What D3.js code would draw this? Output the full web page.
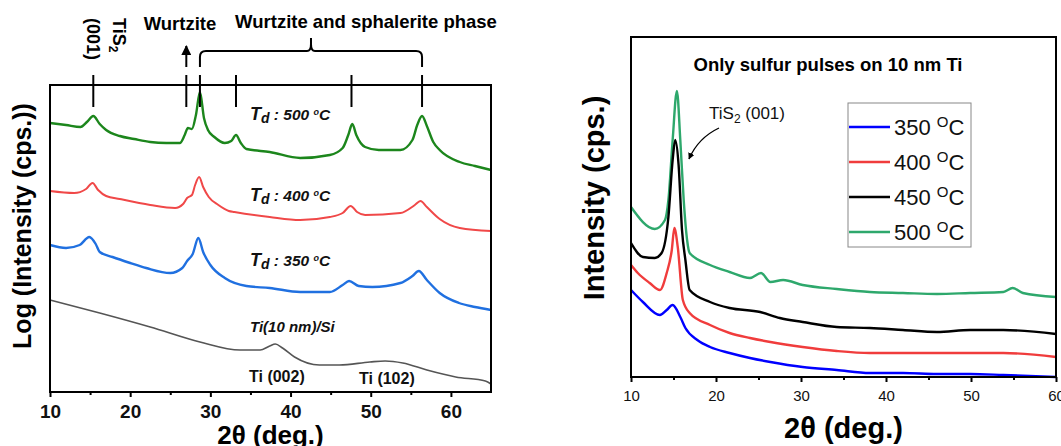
<!DOCTYPE html>
<html>
<head>
<meta charset="utf-8">
<script src="https://cdn.jsdelivr.net/npm/d3@7"></script>
<style>
  body { margin: 0; background: #fff; }
  svg { font-family: "Liberation Sans", Arial, sans-serif; }
</style>
</head>
<body>
<svg id="chart" width="1061" height="446"></svg>
<script>
// ---- left panel: Log intensity vs 2theta (arbitrary units, offset traces)
let leftTicks = [10, 20, 30, 40, 50, 60]
let peakMarks = [15.4, 27.0, 28.7, 33.2, 47.6, 56.4]

let td500 = [[10,269],[12,267],[13.8,265],[14.6,270],[15.4,276],[16.2,268],[17,262],[18.7,256],[20.5,253],[22.5,250],[24.5,249],[26.2,249],[26.8,257],[27.2,264],[27.7,263],[28.2,277],[28.7,300],[29.2,274],[29.7,262],[30.5,255],[31.8,249],[32.6,251],[33.2,257],[33.8,249],[34.5,243],[37.4,240],[41.2,234],[44.9,237],[46.5,244],[47.2,257],[47.7,268],[48.2,257],[49.3,245],[51,242],[53.7,242],[55.2,252],[55.8,267],[56.4,276],[57,266],[57.8,250],[58.6,242],[61.1,230],[63,226],[65,222]]
let td400 = [[10,201],[13,199],[14.5,203],[15.3,209],[16,202],[17,196],[18.7,193],[22.5,187],[25.6,184],[26.6,188],[27.1,194],[27.7,197],[28.1,207],[28.6,215],[29.1,205],[29.8,195],[31,187],[32.3,181],[33,180],[37.4,175],[41.2,172],[44.9,175],[46.5,179],[47.5,186],[48.3,180],[49.3,177],[53.7,179],[55.5,187],[56.2,191],[57,185],[58.6,173],[61.1,164],[65,161]]
let td350 = [[10,147],[12,144],[13.7,147],[14.9,155],[15.7,148],[16.2,140],[17.8,135],[20,129],[22,124],[25,119],[26.5,124],[27.1,131],[27.8,138],[28.5,154],[29.1,140],[30,127],[31.8,114],[34.5,106],[37.4,104],[41.2,100],[44.9,100],[46.5,107],[47.3,111],[48.5,106],[50.2,105],[53.7,109],[55.2,116],[56,121],[57,112],[58.6,99],[61,89],[63,85],[65,82]]
let tiFilm = [[10,92],[16.2,79],[22.5,65],[28.7,50],[33.7,42],[36.2,42],[37.4,46],[38.1,48],[39,44],[40.5,35],[43.6,27],[46.1,27],[49.9,30],[51.8,31],[54,29],[57,22],[60.6,15],[64.3,11],[65,8]]

// ---- right panel: only sulfur pulses
let rightTicks = [10, 20, 30, 40, 50, 60]
let legendNames = ['350', '400', '450', '500']

let s350 = [[10,87],[11.4,75],[13.4,62],[14.2,67],[14.9,72],[15.8,60],[16.4,49],[17.8,37],[19.3,30],[21.6,24],[24,19],[26.4,15],[30.2,10],[34.2,7],[38.1,4],[42,4],[46,3],[49.9,3],[53.8,2],[60,0]]
let s400 = [[10,112],[10.8,104],[12.2,94],[13.4,87],[14.2,104],[14.8,127],[15.1,149],[15.5,130],[16.1,77],[16.9,64],[19.3,52],[21.6,44],[24,39],[26.4,35],[30.2,30],[34.2,26],[38.1,24],[42,24],[46,24],[49.9,24],[53.8,24],[60,20]]
let s450 = [[10,134],[11.4,120],[12.8,119],[13.6,124],[14.4,160],[14.9,217],[15.2,237],[15.6,212],[16,147],[16.4,117],[16.9,87],[19.3,75],[21.6,69],[25.2,65],[27.5,59],[30.2,55],[34.2,50],[38.1,49],[42,47],[46,45],[49.9,47],[53.8,47],[60,43]]
let s500 = [[10,170],[12.8,148],[14,157],[14.4,177],[14.9,237],[15.4,286],[15.8,237],[16.2,177],[16.6,137],[16.9,124],[19.3,112],[21.6,105],[24,99],[25.3,104],[26.4,95],[27.9,97],[30.2,92],[34.2,88],[38.1,85],[42,84],[46,83],[49.9,84],[53.8,85],[54.9,89],[56.1,84],[60,80]]

let svg = d3.select('#chart')

svg.append('defs').append('marker')
  .attr('id', 'arrow')
  .attr('viewBox', '0 0 10 10')
  .attr('refX', 9).attr('refY', 5)
  .attr('markerWidth', 5).attr('markerHeight', 5)
  .attr('orient', 'auto-start-reverse')
  .append('path').attr('d', 'M0,0 L10,5 L0,10 z').attr('fill', '#000')

// ================= LEFT =================
var L = {left: 50, right: 491, top: 85, bottom: 392}
var xl = d3.scaleLinear().domain([10, 65]).range([L.left, L.right])
var yl = d3.scaleLinear().domain([0, 307]).range([L.bottom, L.top])

var lineL = d3.line().curve(d3.curveMonotoneX)
  .x(d => xl(d[0])).y(d => yl(d[1]))

let leftSeries = [
  {data: tiFilm, color: '#555555', w: 1.6},
  {data: td350, color: '#2070e0', w: 2.4},
  {data: td400, color: '#f04848', w: 2},
  {data: td500, color: '#1c861c', w: 2.4}
]

svg.selectAll('.lser')
  .data(leftSeries)
  .enter().append('path')
  .attr('class', 'lser')
  .attr('d', d => lineL(d.data))
  .attr('fill', 'none')
  .attr('stroke', d => d.color)
  .attr('stroke-width', d => d.w)

svg.append('rect')
  .attr('x', L.left).attr('y', L.top)
  .attr('width', L.right - L.left).attr('height', L.bottom - L.top)
  .attr('fill', 'none').attr('stroke', '#000').attr('stroke-width', 2)

var axL = svg.append('g')
  .attr('transform', 'translate(0,' + L.bottom + ')')
  .call(d3.axisBottom(xl).tickValues(leftTicks).tickSize(5).tickFormat(d3.format('d')))
axL.select('.domain').remove()
axL.selectAll('line').attr('stroke-width', 2)
axL.selectAll('text').attr('font-size', 19).attr('font-weight', 'bold').attr('fill', '#111').attr('dy', '0.95em')
svg.append('g')
  .attr('transform', 'translate(0,' + L.bottom + ')')
  .call(d3.axisBottom(xl).tickValues(d3.range(15, 65, 10)).tickSize(3).tickFormat(''))
  .call(g => g.select('.domain').remove())
  .selectAll('line').attr('stroke-width', 2)

svg.append('text')
  .attr('x', (L.left + L.right) / 2).attr('y', 444)
  .attr('text-anchor', 'middle').attr('font-size', 26).attr('font-weight', 'bold')
  .text('2θ (deg.)')

svg.append('text')
  .attr('transform', 'translate(31,226) rotate(-90)')
  .attr('text-anchor', 'middle').attr('font-size', 25).attr('font-weight', 'bold')
  .text('Log (Intensity (cps.))')

// peak markers
svg.selectAll('.pmark')
  .data(peakMarks)
  .enter().append('line')
  .attr('x1', d => xl(d)).attr('x2', d => xl(d))
  .attr('y1', 75).attr('y2', 107)
  .attr('stroke', '#000').attr('stroke-width', 2)

// wurtzite arrow
svg.append('line')
  .attr('x1', xl(27.0)).attr('x2', xl(27.0))
  .attr('y1', 67).attr('y2', 46)
  .attr('stroke', '#000').attr('stroke-width', 2)
  .attr('marker-end', 'url(#arrow)')

// bracket
var bx0 = xl(28.7), bx1 = xl(56.4), bmid = (bx0 + bx1) / 2
var bracket = d3.path()
bracket.moveTo(bx0, 67)
bracket.lineTo(bx0, 57)
bracket.quadraticCurveTo(bx0, 51, bx0 + 6, 51)
bracket.lineTo(bmid - 4, 51)
bracket.quadraticCurveTo(bmid, 51, bmid, 44)
bracket.lineTo(bmid, 38)
bracket.moveTo(bmid, 44)
bracket.quadraticCurveTo(bmid, 51, bmid + 4, 51)
bracket.lineTo(bx1 - 6, 51)
bracket.quadraticCurveTo(bx1, 51, bx1, 57)
bracket.lineTo(bx1, 67)
svg.append('path').attr('d', bracket.toString())
  .attr('fill', 'none').attr('stroke', '#000').attr('stroke-width', 2)

svg.append('text').attr('x', 180).attr('y', 30)
  .attr('text-anchor', 'middle').attr('font-size', 18.5).attr('font-weight', 'bold')
  .text('Wurtzite')
svg.append('text').attr('x', 366).attr('y', 28)
  .attr('text-anchor', 'middle').attr('font-size', 18.5).attr('font-weight', 'bold')
  .text('Wurtzite and sphalerite phase')

var tis = svg.append('text')
  .attr('transform', 'translate(113,18) rotate(90)')
  .attr('font-size', 18).attr('font-weight', 'bold')
tis.append('tspan').text('TiS')
tis.append('tspan').attr('font-size', 12).attr('dy', 4).text('2')
svg.append('text')
  .attr('transform', 'translate(87,18) rotate(90)')
  .attr('font-size', 18).attr('font-weight', 'bold')
  .text('(001)')

function tdLabel (y, temp) {
  var t = svg.append('text').attr('x', 250).attr('y', y)
    .attr('font-size', 14).attr('font-weight', 'bold').attr('font-style', 'italic').attr('fill', '#111')
  t.append('tspan').attr('font-size', 18).text('T')
  t.append('tspan').attr('font-size', 14).attr('dy', 3).text('d')
  t.append('tspan').attr('dy', -3).attr('font-size', 15.5).text(' :  ' + temp + ' ')
  t.append('tspan').attr('font-size', 9).attr('dy', -5).text('o')
  t.append('tspan').attr('dy', 5).attr('font-size', 15.5).text('C')
}
tdLabel(120, 500)
tdLabel(201, 400)
tdLabel(266, 350)

svg.append('text').attr('x', 250).attr('y', 332)
  .attr('font-size', 15).attr('font-weight', 'bold').attr('font-style', 'italic').attr('fill', '#111')
  .text('Ti(10 nm)/Si')
svg.append('text').attr('x', 249).attr('y', 382)
  .attr('font-size', 16).attr('font-weight', 'bold').attr('fill', '#111')
  .text('Ti (002)')
svg.append('text').attr('x', 359).attr('y', 384)
  .attr('font-size', 16).attr('font-weight', 'bold').attr('fill', '#111')
  .text('Ti (102)')

// ================= RIGHT =================
var R = {left: 631, right: 1056, top: 37, bottom: 377}
var xr = d3.scaleLinear().domain([10, 60]).range([R.left, R.right])
var yr = d3.scaleLinear().domain([0, 340]).range([R.bottom, R.top])
var colorR = d3.scaleOrdinal().domain(legendNames).range(['#0000ff', '#f03c3c', '#000000', '#2ea86c'])

var lineR = d3.line().curve(d3.curveMonotoneX)
  .x(d => xr(d[0])).y(d => yr(d[1]))

let rightSeries = [
  {id: '350', data: s350},
  {id: '400', data: s400},
  {id: '450', data: s450},
  {id: '500', data: s500}
]

svg.selectAll('.rser')
  .data(rightSeries.slice().reverse())
  .enter().append('path')
  .attr('class', 'rser')
  .attr('d', d => lineR(d.data))
  .attr('fill', 'none')
  .attr('stroke', d => colorR(d.id))
  .attr('stroke-width', 2.4)

svg.append('rect')
  .attr('x', R.left).attr('y', R.top)
  .attr('width', R.right - R.left).attr('height', R.bottom - R.top)
  .attr('fill', 'none').attr('stroke', '#000').attr('stroke-width', 2)

var axR = svg.append('g')
  .attr('transform', 'translate(0,' + R.bottom + ')')
  .call(d3.axisBottom(xr).tickValues(rightTicks).tickSize(5).tickFormat(d3.format('d')))
axR.select('.domain').remove()
axR.selectAll('line').attr('stroke-width', 2)
axR.selectAll('text').attr('font-size', 15).attr('fill', '#111').attr('dy', '1.05em')
svg.append('g')
  .attr('transform', 'translate(0,' + R.bottom + ')')
  .call(d3.axisBottom(xr).tickValues(d3.range(15, 60, 10)).tickSize(3).tickFormat(''))
  .call(g => g.select('.domain').remove())
  .selectAll('line').attr('stroke-width', 2)

svg.append('text')
  .attr('x', (R.left + R.right) / 2).attr('y', 438)
  .attr('text-anchor', 'middle').attr('font-size', 29).attr('font-weight', 'bold')
  .text('2θ (deg.)')

svg.append('text')
  .attr('transform', 'translate(604,198) rotate(-90)')
  .attr('text-anchor', 'middle').attr('font-size', 29).attr('font-weight', 'bold')
  .text('Intensity (cps.)')

svg.append('text').attr('x', 828).attr('y', 71)
  .attr('text-anchor', 'middle').attr('font-size', 18.5).attr('font-weight', 'bold')
  .text('Only sulfur pulses on 10 nm Ti')

var ann = svg.append('text').attr('x', 709).attr('y', 119).attr('font-size', 17).attr('fill', '#111')
ann.append('tspan').text('TiS')
ann.append('tspan').attr('font-size', 12).attr('dy', 4).text('2')
ann.append('tspan').attr('dy', -4).text(' (001)')

svg.append('path')
  .attr('d', 'M719,128 Q698,138 689,159')
  .attr('fill', 'none').attr('stroke', '#000').attr('stroke-width', 1.3)
  .attr('marker-end', 'url(#arrow)')

// legend
var lg = svg.append('g')
lg.append('rect')
  .attr('x', 848).attr('y', 103).attr('width', 123).attr('height', 144)
  .attr('fill', '#fff').attr('stroke', '#888').attr('stroke-width', 1)
var items = lg.selectAll('.item')
  .data(legendNames)
  .enter().append('g')
  .attr('transform', (d, i) => 'translate(0,' + (127 + i * 35) + ')')
items.append('line')
  .attr('x1', 849).attr('x2', 890)
  .attr('stroke', d => colorR(d)).attr('stroke-width', 2.5)
var lt = items.append('text').attr('x', 894).attr('y', 8).attr('font-size', 22).attr('fill', '#111')
lt.append('tspan').text(d => d + ' ')
lt.append('tspan').attr('font-size', 15).attr('dy', -8).text('O')
lt.append('tspan').attr('dy', 8).text('C')
</script>
</body>
</html>
